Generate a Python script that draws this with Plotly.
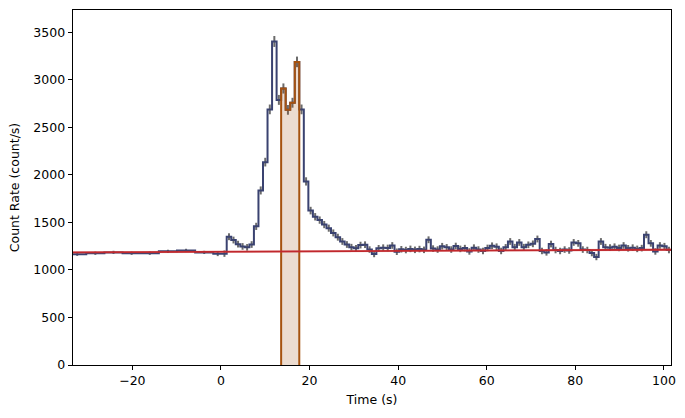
import numpy as np
import plotly.graph_objects as go

# ---------------- data ----------------
# pre-trigger (4.096 s) bins: edges and rates
pre_edges = [-34.5, -30.404, -26.308, -22.212, -18.116, -14.02, -9.924, -5.828, -1.732, 0.276]
pre_rates = [1165, 1176, 1185, 1176, 1176, 1196, 1206, 1185, 1170]

# post-trigger 1.024 s bins
fine_start = 0.276
fine_dt = 1.024
fine_rates = [
    1172, 1350, 1315, 1272, 1248, 1238, 1268, 1459, 1837, 2135,
    2690, 3405, 2790, 2910, 2685, 2760, 3190, 2690, 1932, 1625,
    1560, 1525, 1478, 1440, 1390, 1345, 1300, 1268, 1240, 1228,
    1262, 1266, 1215, 1168, 1228, 1235, 1232, 1258, 1192, 1218,
    1210, 1222, 1212, 1220, 1212, 1318, 1225, 1215, 1250, 1238,
    1215, 1252, 1222, 1230, 1195, 1235, 1215, 1200, 1232, 1255,
    1245, 1200, 1238, 1300, 1240, 1290, 1240, 1265, 1275, 1326,
    1200, 1185, 1273, 1210, 1200, 1215, 1205, 1290, 1280, 1215,
    1210, 1178, 1136, 1300, 1240, 1235, 1245, 1232, 1258, 1228,
    1235, 1222, 1230, 1371, 1280, 1195, 1258, 1250, 1210,
]

# source selection: fine-bin index range [first, last)
src_first, src_last = 13, 17

# background model (linear), evaluated at two times
bkg_times = [-34.5, 101.65]
bkg_rates = [1185, 1213]
bkg_unc = 12

x_range = [-33.4, 101.6]
y_range = [0, 3736]

# ---------------- build ----------------
fine_edges = [fine_start + fine_dt * (k + 1) for k in range(len(fine_rates))]
edges = np.array(pre_edges + fine_edges)
rates = np.array(pre_rates + fine_rates, dtype=float)
widths = np.diff(edges)
centers = edges[:-1] + widths / 2
errs = np.sqrt(rates * widths) / widths

blue = '#3a4270'
orange = '#a6520f'
red = '#c0282d'

fig = go.Figure()

# error bars
fig.add_trace(go.Scatter(
    x=centers, y=rates, mode='markers',
    marker=dict(size=0.1, color='rgba(0,0,0,0)'),
    error_y=dict(type='data', array=errs, visible=True, thickness=2, width=0, color='#6b6b6b'),
    hoverinfo='skip', showlegend=False))

# light curve step
fig.add_trace(go.Scatter(
    x=edges, y=np.append(rates, rates[-1]), mode='lines', line_shape='hv',
    line=dict(color=blue, width=2), showlegend=False))

# source selection
n_pre = len(pre_rates)
sel_edges = edges[n_pre + src_first: n_pre + src_last + 1]
sel_rates = rates[n_pre + src_first: n_pre + src_last]
sx = np.concatenate([[sel_edges[0]], sel_edges, [sel_edges[-1]]])
sy = np.concatenate([[0], sel_rates, [sel_rates[-1], 0]])
fig.add_trace(go.Scatter(
    x=sx, y=sy, mode='lines', line_shape='hv', fill='toself',
    fillcolor='rgba(160,82,20,0.2)', line=dict(color=orange, width=2),
    showlegend=False))

# background band and line
bt = np.array(bkg_times)
br = np.array(bkg_rates, dtype=float)
fig.add_trace(go.Scatter(
    x=np.concatenate([bt, bt[::-1]]), y=np.concatenate([br + bkg_unc, (br - bkg_unc)[::-1]]),
    fill='toself', fillcolor='rgba(220,90,90,0.35)', line=dict(width=0),
    mode='lines', showlegend=False, hoverinfo='skip'))
fig.add_trace(go.Scatter(
    x=bt, y=br, mode='lines', line=dict(color=red, width=1.8), showlegend=False))

axis_common = dict(
    showline=True, mirror=True, linecolor='black', linewidth=1,
    ticks='outside', ticklen=4.4, tickwidth=1, tickcolor='black',
    showgrid=False, zeroline=False,
    tickfont=dict(family='DejaVu Sans', size=12.5, color='black'),
)

fig.update_layout(
    width=685, height=418,
    margin=dict(l=73, r=14, t=10, b=53),
    paper_bgcolor='white', plot_bgcolor='white',
    font=dict(family='DejaVu Sans', size=12.5, color='black'),
    xaxis=dict(range=x_range, tick0=0, dtick=20,
               title=dict(text='Time (s)', font=dict(size=12.5), standoff=7), **axis_common),
    yaxis=dict(range=y_range, tick0=0, dtick=500,
               title=dict(text='Count Rate (count/s)', font=dict(size=12.5), standoff=10), **axis_common),
)

fig.write_html('out.html', config={'displayModeBar': False},
               post_script="document.body.style.margin='0px';document.body.style.padding='0px';")
